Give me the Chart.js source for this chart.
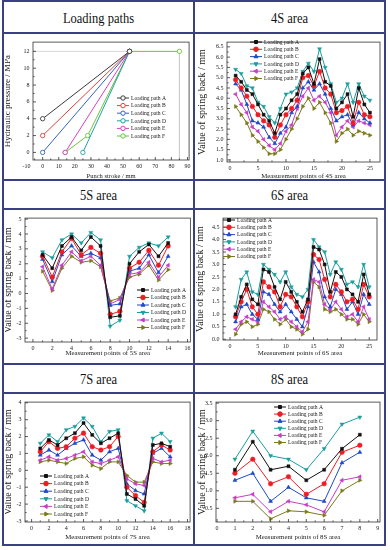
<!DOCTYPE html>
<html>
<head>
<meta charset="utf-8">
<script src="https://cdn.jsdelivr.net/npm/chart.js@4.4.0/dist/chart.umd.min.js"></script>
<style>
  body { margin: 0; width: 390px; height: 550px; background: #fff; position: relative; overflow: hidden; font-family: "Liberation Serif", "Times New Roman", serif; }
  .ln { position: absolute; background: #3a3f86; }
  .ttl { position: absolute; text-align: center; font-family: "Liberation Serif", "Times New Roman", serif; font-size: 12.5px; color: #111; transform: scaleY(1.15); }
  canvas { position: absolute; }
</style>
</head>
<body>
<div id="grid"></div>
<canvas id="c1" width="188" height="144" style="left:5px;top:35px"></canvas>
<canvas id="c2" width="188" height="144" style="left:196px;top:35px"></canvas>
<canvas id="c3" width="188" height="152" style="left:5px;top:211px"></canvas>
<canvas id="c4" width="188" height="152" style="left:196px;top:211px"></canvas>
<canvas id="c5" width="188" height="149" style="left:5px;top:395px"></canvas>
<canvas id="c6" width="188" height="149" style="left:196px;top:395px"></canvas>
<script>
// Nimed ja värvid
const seriesNames = ['Loading path A', 'Loading path B', 'Loading path C', 'Loading path D', 'Loading path E', 'Loading path F'];
const seriesColors = ['#111111', '#ee1c24', '#1f48c8', '#1a9e9e', '#c83cc8', '#7a7a1a'];
const pathColors = ['#3a3a3a', '#e0403c', '#2f62c4', '#1fa3a3', '#e03cc0', '#6cc23a'];

// Koormusteed: kolvi käik (mm) ja rõhk (MPa)
const pathStroke = [[0, 54], [0, 54], [0, 54], [25, 54], [14, 54], [14, 28, 54, 85]];
const pathPressure = [[4, 12], [2, 12], [0, 12], [0, 12], [0, 12], [0, 2, 12, 12]];
const maxPressure = 12;
const endStroke = 85;

// 4S ala
const area4S_A = [5.1, 4.8, 4.4, 4.2, 3.7, 3.2, 2.9, 2.3, 3.2, 3.5, 3.9, 4.2, 5.2, 5.5, 4.7, 5.9, 4.8, 4.6, 3.5, 3.8, 4.2, 3.1, 4.5, 3.7, 3.3];
const area4S_B = [4.9, 4.5, 4.1, 3.6, 3.2, 2.9, 2.7, 2.1, 2.7, 3.2, 3.5, 3.9, 5.0, 5.1, 4.6, 5.3, 4.5, 4.2, 3.3, 3.4, 3.6, 2.8, 3.8, 3.2, 3.1];
const area4S_C = [4.7, 4.4, 3.7, 2.9, 2.8, 2.6, 2.1, 1.8, 2.3, 2.6, 3.3, 3.6, 4.5, 4.8, 4.4, 4.7, 4.2, 3.5, 2.9, 3.1, 3.2, 2.7, 3.3, 3.0, 2.8];
const area4S_D = [5.4, 5.2, 4.6, 4.5, 3.8, 3.6, 3.1, 2.8, 3.5, 4.2, 4.3, 4.5, 5.3, 5.7, 5.3, 6.4, 5.5, 4.7, 3.8, 4.0, 4.7, 3.8, 4.7, 4.1, 3.9];
const area4S_E = [4.2, 3.7, 3.3, 2.6, 2.4, 2.0, 1.7, 1.5, 1.8, 2.4, 2.7, 3.5, 4.1, 4.5, 3.9, 4.1, 3.8, 3.3, 2.2, 2.6, 2.9, 2.6, 2.9, 2.8, 2.7];
const area4S_F = [3.6, 3.2, 2.8, 2.2, 1.9, 1.6, 1.3, 1.3, 1.5, 2.0, 2.5, 3.0, 3.6, 4.0, 3.5, 3.8, 3.3, 2.8, 1.9, 2.3, 2.5, 2.2, 2.4, 2.3, 2.2];

// 5S ala
const area5S_A = [2.6, 1.7, 3.2, 3.8, 2.9, 3.8, 3.2, -1.6, -1.5, 2.0, 2.8, 3.3, 2.5, 3.4];
const area5S_B = [2.5, 1.1, 2.8, 3.7, 2.6, 3.1, 2.7, -1.4, -1.2, 1.7, 2.1, 2.9, 1.9, 3.2];
const area5S_C = [2.3, 0.8, 2.6, 3.2, 2.5, 2.7, 2.4, -0.8, -0.7, 1.5, 1.7, 2.6, 1.4, 2.5];
const area5S_D = [2.8, 2.4, 3.6, 4.0, 3.4, 4.1, 3.6, -2.2, -1.8, 2.5, 3.1, 3.4, 3.2, 3.8];
const area5S_E = [1.8, 0.3, 1.9, 2.8, 2.2, 2.5, 1.9, -0.7, -0.4, 1.3, 1.4, 2.1, 1.1, 1.9];
const area5S_F = [1.5, 0.2, 1.7, 2.5, 2.1, 2.2, 1.8, -0.5, -0.3, 1.1, 1.3, 1.9, 0.9, 1.6];

// 6S ala
const area6S_A = [1.0, 1.7, 2.2, 1.6, 1.4, 2.8, 2.7, 2.1, 1.6, 2.3, 1.9, 1.5, 1.1, 1.6, 3.7, 3.6, 3.0, 1.9, 2.7, 2.5, 2.0, 1.8, 1.5, 2.6, 1.8];
const area6S_B = [0.9, 1.5, 2.0, 1.3, 1.0, 2.3, 2.1, 1.9, 1.3, 1.8, 1.7, 1.3, 0.9, 1.5, 3.4, 3.2, 2.4, 1.7, 2.2, 1.9, 1.5, 1.6, 1.2, 2.2, 1.7];
const area6S_C = [0.7, 1.3, 1.4, 1.0, 0.8, 1.9, 1.8, 1.4, 1.1, 1.4, 1.1, 0.8, 0.5, 1.3, 3.1, 2.7, 1.7, 1.3, 2.0, 1.8, 1.2, 1.5, 1.0, 1.8, 1.4];
const area6S_D = [1.3, 2.4, 2.7, 1.9, 1.8, 3.0, 2.8, 2.6, 2.3, 2.7, 2.1, 1.8, 1.7, 2.0, 4.0, 3.7, 3.5, 2.6, 3.1, 2.8, 2.2, 2.3, 2.1, 3.0, 2.1];
const area6S_E = [0.4, 0.7, 0.9, 0.8, 0.7, 1.5, 1.3, 1.1, 0.8, 0.9, 0.7, 0.5, 0.3, 0.7, 2.4, 2.3, 1.4, 1.2, 1.5, 1.2, 0.9, 1.0, 0.7, 1.3, 0.8];
const area6S_F = [0.2, 0.6, 0.7, 0.5, 0.6, 1.2, 1.1, 0.8, 0.6, 0.8, 0.5, 0.4, 0.2, 0.4, 2.3, 2.1, 1.2, 1.1, 1.2, 1.0, 0.8, 0.8, 0.6, 1.0, 0.7];

// 7S ala
const area7S_A = [1.3, 1.8, 1.5, 1.9, 2.2, 2.8, 2.1, 1.6, 1.9, 2.2, -1.4, -1.7, -2.1, 1.5, 1.6, 1.4];
const area7S_B = [1.1, 1.7, 1.3, 1.4, 1.9, 2.2, 1.4, 1.2, 1.4, 2.0, -1.0, -1.5, -1.9, 1.1, 1.5, 1.2];
const area7S_C = [0.9, 1.2, 0.9, 1.3, 1.6, 1.8, 0.9, 0.6, 1.1, 1.3, -0.8, -1.2, -1.4, 1.0, 1.3, 0.8];
const area7S_D = [1.6, 2.1, 1.7, 2.4, 2.6, 3.1, 2.6, 1.7, 2.3, 2.4, -1.8, -2.1, -2.4, 1.9, 2.2, 1.7];
const area7S_E = [0.6, 0.8, 0.6, 0.7, 0.9, 1.1, 0.5, 0.4, 0.6, 0.8, -0.5, -0.8, -0.9, 0.7, 0.5, 0.6];
const area7S_F = [0.5, 0.6, 0.5, 0.4, 0.7, 0.8, 0.3, 0.1, 0.5, 0.5, -0.3, -0.7, -0.7, 0.5, 0.4, 0.4];

// 8S ala
const area8S_A = [1.6, 2.4, 1.6, 1.7, 1.3, 1.6, 2.2, 2.6];
const area8S_B = [1.5, 1.9, 1.2, 1.4, 0.9, 1.2, 2.1, 2.3];
const area8S_C = [1.3, 1.5, 0.7, 1.1, 0.8, 0.7, 1.8, 2.1];
const area8S_D = [1.9, 2.7, 2.0, 1.9, 1.6, 2.2, 2.9, 3.1];
const area8S_E = [0.8, 0.9, 0.4, 0.7, 0.6, 0.4, 1.3, 1.4];
const area8S_F = [0.7, 0.7, 0.2, 0.43, 0.4, 0.3, 1.0, 1.3];

// Telgede märgised
const ticksPathX = [-10, 0, 10, 20, 30, 40, 50, 60, 70, 80, 90];
const ticksPathY = [0, 2, 4, 6, 8, 10, 12];
const ticks4Sx = [0, 5, 10, 15, 20, 25];
const ticks4Sy = [1.0, 1.5, 2.0, 2.5, 3.0, 3.5, 4.0, 4.5, 5.0, 5.5, 6.0, 6.5];
const ticks5Sx = [0, 2, 4, 6, 8, 10, 12, 14, 16];
const ticks5Sy = [-3, -2, -1, 0, 1, 2, 3, 4, 5];
const ticks6Sx = [0, 5, 10, 15, 20, 25];
const ticks6Sy = [0.0, 0.5, 1.0, 1.5, 2.0, 2.5, 3.0, 3.5, 4.0, 4.5];
const ticks7Sx = [0, 2, 4, 6, 8, 10, 12, 14, 16, 18];
const ticks7Sy = [-3, -2, -1, 0, 1, 2, 3, 4];
const ticks8Sx = [0, 1, 2, 3, 4, 5, 6, 7, 8, 9];
const ticks8Sy = [0.5, 1.0, 1.5, 2.0, 2.5, 3.0, 3.5];

const FONT = '"Liberation Serif", "Times New Roman", serif';
const markerStyles = [['rect', 0], ['circle', 0], ['triangle', 0], ['triangle', 180], ['triangle', -90], ['triangle', 90]];

// Tabeli jooned
(function joonistaTabel() {
    const g = document.getElementById('grid');
    const vx = [3, 194, 385];
    const hy = [1, 33, 180, 209, 364, 393, 545];
    vx.forEach(x => {
        const d = document.createElement('div');
        d.className = 'ln';
        d.style.cssText = `left:${x - 1}px;top:0px;width:2px;height:546px`;
        g.appendChild(d);
    });
    hy.forEach(y => {
        const d = document.createElement('div');
        d.className = 'ln';
        d.style.cssText = `left:2px;top:${y - 1}px;width:384px;height:2px`;
        g.appendChild(d);
    });
    const titles = [
        ['Loading paths', 3, 1, 33], ['4S area', 194, 1, 33],
        ['5S area', 3, 180, 209], ['6S area', 194, 180, 209],
        ['7S area', 3, 364, 393], ['8S area', 194, 364, 393]
    ];
    titles.forEach(([t, x, y0, y1]) => {
        const d = document.createElement('div');
        d.className = 'ttl';
        d.textContent = t;
        d.style.cssText = `left:${x}px;width:191px;top:${y0 + 1}px;height:${y1 - y0}px;line-height:${y1 - y0}px`;
        g.appendChild(d);
    });
})();

// Raam ja sissepoole suunatud jaotised
const originFrame = {
    id: 'originFrame',
    afterDatasetsDraw(chart) {
        const { ctx, chartArea: a, scales } = chart;
        ctx.save();
        ctx.strokeStyle = '#333';
        ctx.lineWidth = 0.8;
        ctx.strokeRect(a.left, a.top, a.right - a.left, a.bottom - a.top);
        const tick = (x1, y1, x2, y2) => { ctx.beginPath(); ctx.moveTo(x1, y1); ctx.lineTo(x2, y2); ctx.stroke(); };
        const xs = scales.x, ys = scales.y;
        const xv = xs.ticks.map(t => t.value);
        xv.forEach((v, i) => {
            const px = xs.getPixelForValue(v);
            if (px >= a.left - 0.5 && px <= a.right + 0.5) tick(px, a.bottom, px, a.bottom - 3);
            if (i < xv.length - 1) {
                const mx = xs.getPixelForValue((v + xv[i + 1]) / 2);
                if (mx >= a.left && mx <= a.right) tick(mx, a.bottom, mx, a.bottom - 1.6);
            }
        });
        const yv = ys.ticks.map(t => t.value);
        yv.forEach((v, i) => {
            const py = ys.getPixelForValue(v);
            if (py >= a.top - 0.5 && py <= a.bottom + 0.5) tick(a.left, py, a.left + 3, py);
            if (i < yv.length - 1) {
                const my = ys.getPixelForValue((v + yv[i + 1]) / 2);
                if (my >= a.top && my <= a.bottom) tick(a.left, my, a.left + 1.6, my);
            }
        });
        ctx.restore();
    }
};

// Joonisesisene legend
const insideLegend = {
    id: 'insideLegend',
    afterDraw(chart, args, o) {
        if (o.x === undefined) return;
        const ctx = chart.ctx;
        ctx.save();
        ctx.font = `5.6px ${FONT}`;
        ctx.textBaseline = 'middle';
        let row = 0;
        chart.data.datasets.forEach(ds => {
            if (ds.noLegend) return;
            const yy = o.y + row * o.gap;
            row++;
            ctx.strokeStyle = ds.borderColor;
            ctx.lineWidth = 1;
            ctx.beginPath();
            ctx.moveTo(o.x, yy);
            ctx.lineTo(o.x + o.len, yy);
            ctx.stroke();
            ctx.fillStyle = ds.pointBackgroundColor;
            Chart.helpers.drawPoint(ctx, {
                pointStyle: ds.pointStyle, rotation: ds.pointRotation,
                radius: ds.pointRadius, borderWidth: ds.pointBorderWidth
            }, o.x + o.len / 2, yy);
            ctx.fillStyle = '#222';
            ctx.fillText(ds.label, o.x + o.len + 2, yy + 0.3);
        });
        ctx.restore();
    }
};

// Ühine joonise loomise funktsioon
function looJoonis(c) {
    const canvas = document.getElementById(c.id);
    const cw = canvas.width, ch = canvas.height;
    const cx = parseFloat(canvas.style.left), cy = parseFloat(canvas.style.top);
    const p = c.plot; // [vasak, ülemine, parem, alumine] lehe koordinaatides
    const axisFont = { size: 6, family: FONT };
    new Chart(canvas.getContext('2d'), {
        type: 'line',
        data: { datasets: c.datasets },
        options: {
            responsive: false,
            animation: false,
            events: [],
            layout: { autoPadding: false, padding: { left: 0, top: p[1] - cy, right: cx + cw - p[2], bottom: 0 } },
            plugins: {
                legend: { display: false },
                tooltip: { enabled: false },
                insideLegend: { x: c.legend[0] - cx, y: c.legend[1] - cy, gap: c.legend[2], len: 12 }
            },
            scales: {
                x: {
                    type: 'linear', min: c.xr[0], max: c.xr[1],
                    afterBuildTicks: s => { s.ticks = c.xt.map(v => ({ value: v })); },
                    afterFit: s => { s.height = cy + ch - p[3]; },
                    grid: { display: false, drawTicks: false },
                    border: { display: false },
                    ticks: { autoSkip: false, maxRotation: 0, padding: 2.5, font: axisFont, color: '#222',
                        callback: v => v.toFixed(c.xd || 0) },
                    title: { display: true, text: c.xTitle, color: '#222', padding: 0,
                        font: { size: c.xSize, family: FONT, lineHeight: 2 * c.xOff / c.xSize } }
                },
                y: {
                    type: 'linear', min: c.yr[0], max: c.yr[1],
                    afterBuildTicks: s => { s.ticks = c.yt.map(v => ({ value: v })); },
                    afterFit: s => { s.width = p[0] - cx; },
                    grid: { display: false, drawTicks: false },
                    border: { display: false },
                    ticks: { autoSkip: false, padding: 3.5, font: axisFont, color: '#222',
                        callback: v => v.toFixed(c.yd || 0) },
                    title: { display: true, text: c.yTitle, color: '#222', padding: 0,
                        font: { size: c.ySize, family: FONT, lineHeight: 2 * c.yOff / c.ySize } }
                }
            }
        },
        plugins: [originFrame, insideLegend]
    });
}

// Vetruvuse seeriad
function vetruvusSeeriad(arrays) {
    return arrays.map((vals, i) => ({
        label: seriesNames[i],
        data: vals.map((v, k) => ({ x: k + 1, y: v })),
        borderColor: seriesColors[i],
        backgroundColor: seriesColors[i],
        pointBackgroundColor: seriesColors[i],
        pointBorderColor: seriesColors[i],
        pointStyle: markerStyles[i][0],
        pointRotation: markerStyles[i][1],
        pointRadius: markerStyles[i][0] === 'rect' ? 2.1 : 2.3,
        pointBorderWidth: 0.5,
        borderWidth: 1,
        tension: 0
    }));
}

// Koormusteede seeriad
const pathDatasets = pathStroke.map((xs, i) => ({
    label: seriesNames[i],
    data: xs.map((x, k) => ({ x: x, y: pathPressure[i][k] })),
    borderColor: pathColors[i],
    pointBackgroundColor: '#fff',
    pointBorderColor: pathColors[i],
    pointStyle: 'circle',
    pointRotation: 0,
    pointRadius: 2.2,
    pointBorderWidth: 0.9,
    borderWidth: 1,
    tension: 0
}));
pathDatasets.push({
    label: 'guide', noLegend: true,
    data: [{ x: -6, y: maxPressure }, { x: 54, y: maxPressure }, { x: null, y: null }, { x: endStroke, y: maxPressure }, { x: endStroke, y: -0.9 }],
    borderColor: '#c8c8c8', borderWidth: 0.7, pointRadius: 0, spanGaps: false
});

looJoonis({
    id: 'c1', plot: [33, 37, 190, 160], xr: [-6, 91], yr: [-0.9, 13.1], xt: ticksPathX, yt: ticksPathY,
    xTitle: 'Punch stroke / mm', yTitle: 'Hydraulic pressure / MPa', xSize: 6.5, ySize: 9, xOff: 3, yOff: 2.5,
    legend: [117, 98, 7.6], datasets: pathDatasets
});
looJoonis({
    id: 'c2', plot: [227, 38, 380, 162], xr: [-0.54, 26.8], yr: [0.9, 6.73], xt: ticks4Sx, yt: ticks4Sy, yd: 1,
    xTitle: 'Measurement points of 4S area', yTitle: 'Value of spring back / mm', xSize: 6.8, ySize: 10, xOff: 3, yOff: 6,
    legend: [250, 42, 7.3], datasets: vetruvusSeeriad([area4S_A, area4S_B, area4S_C, area4S_D, area4S_E, area4S_F])
});
looJoonis({
    id: 'c3', plot: [25, 215, 192, 342], xr: [-0.82, 16.3], yr: [-3.26, 5.07], xt: ticks5Sx, yt: ticks5Sy,
    xTitle: 'Measurement points of 5S area', yTitle: 'Value of spring back / mm', xSize: 6.8, ySize: 10, xOff: 10, yOff: 3,
    legend: [137, 290, 7.5], datasets: vetruvusSeeriad([area5S_A, area5S_B, area5S_C, area5S_D, area5S_E, area5S_F])
});
looJoonis({
    id: 'c4', plot: [223, 213, 377, 340], xr: [-1.26, 26.4], yr: [-0.03, 4.86], xt: ticks6Sx, yt: ticks6Sy, yd: 1,
    xTitle: 'Measurement points of 6S area', yTitle: 'Value of spring back / mm', xSize: 6.8, ySize: 10, xOff: 10, yOff: 4,
    legend: [223, 220, 7.3], datasets: vetruvusSeeriad([area6S_A, area6S_B, area6S_C, area6S_D, area6S_E, area6S_F])
});
looJoonis({
    id: 'c5', plot: [25, 398, 192, 522], xr: [-0.76, 18.3], yr: [-3.06, 4.04], xt: ticks7Sx, yt: ticks7Sy,
    xTitle: 'Measurement points of 7S area', yTitle: 'Value of spring back / mm', xSize: 6.8, ySize: 10, xOff: 7, yOff: 3,
    legend: [40, 476, 7.6], datasets: vetruvusSeeriad([area7S_A, area7S_B, area7S_C, area7S_D, area7S_E, area7S_F])
});
looJoonis({
    id: 'c6', plot: [216, 398, 380, 522], xr: [-0.06, 9.13], yr: [0.11, 3.53], xt: ticks8Sx, yt: ticks8Sy, yd: 1,
    xTitle: 'Measurement points of 8S area', yTitle: 'Value of spring back / mm', xSize: 6.8, ySize: 10, xOff: 7, yOff: 6,
    legend: [274, 407, 7.1], datasets: vetruvusSeeriad([area8S_A, area8S_B, area8S_C, area8S_D, area8S_E, area8S_F])
});
</script>
</body>
</html>
